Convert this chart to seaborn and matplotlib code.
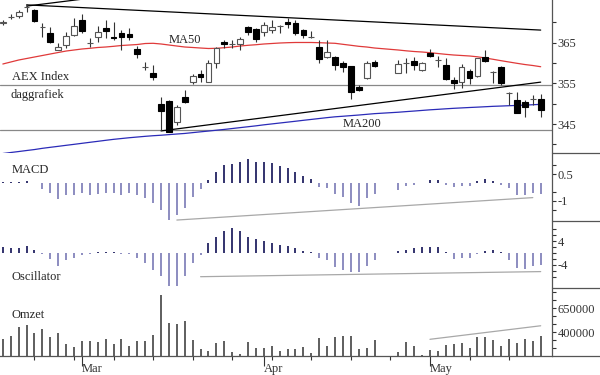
import numpy as np
import pandas as pd
import matplotlib
matplotlib.use("Agg")
import matplotlib.pyplot as plt
import seaborn as sns
from matplotlib.lines import Line2D

# trading days (Euronext closed on Good Friday and Easter Monday)
dates = pd.bdate_range("2011-02-15", "2011-05-20")
dates = dates[~dates.isin(pd.to_datetime(["2011-04-22", "2011-04-25"]))]

# AEX daily candles
opens = [369.9, 371.3, 371.6, 373.7, 373.0, 368.9, 367.3, 363.2, 364.4, 366.9,
         370.6, 365.0, 366.3, 368.5, 366.3, 367.3, 367.1, 363.4, 359.1, 357.5,
         349.9, 350.7, 345.4, 351.6, 355.4, 357.3, 355.4, 359.9, 365.2, 364.6,
         364.6, 368.9, 368.3, 367.6, 368.1, 369.1, 370.2, 369.9, 368.0, 366.3,
         364.0, 361.6, 361.6, 360.1, 359.3, 354.0, 356.2, 360.3, 357.6, 359.9,
         360.6, 358.3, 362.5, 360.7, 359.5, 355.8, 355.4, 358.1, 356.8, 361.6,
         357.9, 359.1, 352.7, 350.9, 350.3, 351.1, 351.1]
highs = [370.6, 372.1, 373.0, 374.6, 373.2, 369.8, 368.9, 364.9, 367.7, 371.1,
         372.1, 366.2, 369.1, 370.6, 370.2, 368.1, 368.6, 364.2, 360.2, 359.5,
         351.6, 350.9, 349.7, 353.4, 357.3, 358.3, 360.7, 363.9, 365.7, 365.7,
         366.4, 369.1, 368.6, 370.1, 370.6, 369.4, 371.1, 370.6, 368.4, 367.9,
         365.7, 365.7, 361.7, 360.5, 359.3, 354.6, 360.5, 360.7, 360.7, 361.2,
         361.5, 360.2, 363.4, 361.7, 361.2, 356.6, 359.8, 358.5, 361.2, 363.2,
         358.0, 359.3, 352.9, 352.9, 350.9, 352.1, 352.4]
lows = [369.4, 370.8, 371.1, 372.6, 370.1, 366.4, 364.9, 363.1, 363.7, 366.6,
        367.4, 363.9, 365.2, 366.2, 365.7, 363.2, 365.7, 361.2, 358.3, 355.8,
        343.5, 343.0, 344.7, 350.2, 354.8, 355.3, 355.3, 358.8, 363.7, 363.7,
        363.2, 366.9, 365.2, 366.6, 367.4, 367.4, 368.6, 366.9, 366.2, 366.2,
        360.0, 361.2, 358.3, 357.8, 351.1, 353.1, 356.1, 359.0, 357.5, 357.5,
        358.3, 358.0, 361.5, 359.0, 355.8, 353.6, 353.9, 354.8, 356.6, 360.2,
        355.1, 354.6, 349.7, 347.7, 346.7, 349.7, 346.7]
closes = [370.0, 371.4, 372.6, 373.8, 370.4, 368.9, 365.2, 363.9, 366.7, 369.1,
          367.9, 365.0, 367.6, 367.9, 366.2, 366.5, 366.5, 362.2, 359.1, 356.5,
          348.2, 343.1, 349.3, 350.5, 356.9, 356.6, 360.1, 363.6, 364.7, 364.6,
          365.8, 367.7, 365.8, 369.4, 368.9, 369.1, 369.6, 367.3, 366.9, 366.3,
          360.9, 362.8, 359.5, 359.1, 352.9, 353.4, 359.9, 359.3, 359.7, 359.9,
          359.5, 360.1, 361.7, 360.7, 356.1, 355.0, 359.1, 356.2, 361.2, 360.6,
          357.9, 355.0, 352.7, 347.8, 349.3, 351.1, 348.4]

ma50 = [359.76, 360.25, 360.74, 361.11, 361.48, 361.85, 362.22, 362.59, 362.95, 363.2,
        363.45, 363.62, 363.82, 363.94, 364.11, 364.31, 364.43, 364.55, 364.80, 364.85,
        364.68, 364.43, 364.18, 363.94, 363.82, 363.69, 363.57, 363.62, 363.77, 363.94,
        364.18, 364.36, 364.50, 364.68, 364.80, 364.92, 365.0, 365.05, 365.05, 365.05,
        365.0, 364.92, 364.85, 364.6, 364.36, 364.11, 363.94, 363.69, 363.2, 363.0,
        362.83, 362.71, 362.54, 362.34, 362.14, 361.97, 361.85, 361.73, 361.53, 361.23,
        360.91, 360.57, 360.25, 359.93, 359.63, 359.39, 359.09]
ma200 = [337.74, 337.99, 338.23, 338.48, 338.72, 339.02, 339.27, 339.51, 339.76, 340.0,
         340.25, 340.5, 340.74, 340.99, 341.23, 341.43, 341.63, 341.8, 341.97, 342.12,
         342.24, 342.39, 342.54, 342.68, 342.88, 343.08, 343.27, 343.47, 343.67, 343.89,
         344.11, 344.33, 344.55, 344.8, 345.02, 345.24, 345.46, 345.68, 345.91, 346.13,
         346.35, 346.57, 346.77, 346.91, 347.06, 347.21, 347.38, 347.55, 347.9, 348.05,
         348.19, 348.34, 348.49, 348.61, 348.74, 348.86, 348.96, 349.06, 349.15, 349.25,
         349.35, 349.42, 349.5, 349.57, 349.65, 349.74, 349.84]

macd = [0.05, 0.05, 0.07, 0.1, 0.02, -0.32, -0.56, -0.9, -0.65, -0.65,
        -0.56, -0.65, -0.6, -0.56, -0.56, -0.65, -0.56, -0.65, -0.84, -1.12,
        -1.5, -2.06, -1.78, -1.4, -0.75, -0.34, 0.19, 0.65, 1.03, 1.08,
        1.2, 1.35, 1.2, 1.2, 1.15, 0.97, 0.84, 0.65, 0.41, 0.22,
        -0.19, -0.28, -0.6, -0.75, -1.12, -1.27, -0.84, -0.6, -0.37, -0.15,
        -0.1, 0.02, 0.19, 0.19, -0.1, -0.22, -0.15, -0.15, 0.15, 0.22,
        0.15, -0.1, -0.28, -0.65, -0.65, -0.56, -0.6]
oscillator = [2.0, 1.8, 1.8, 2.2, 1.1, -0.3, -2.0, -4.2, -2.4, -1.7,
              -0.5, -0.3, 0.3, 0.3, 0.3, -0.3, -0.3, -1.7, -3.4, -5.6,
              -7.6, -11.0, -11.0, -7.8, -3.4, -0.5, 3.3, 5.5, 7.5, 8.5,
              7.5, 5.3, 4.6, 3.9, 3.3, 2.8, 2.2, 1.7, 0.8, 0.4,
              -1.7, -2.3, -4.7, -5.6, -6.2, -6.5, -4.5, -2.5, 0.8, 1.0,
              1.6, 1.9, 2.1, 2.1, 0.4, -2.0, -1.7, -1.7, -0.2, 0.8,
              1.0, 0.4, -2.5, -5.0, -5.4, -4.3, -4.0]
omzet = [326600, 361000, 451600, 476000, 396000, 434000, 354000, 389000, 278000, 250000,
         309000, 309000, 299000, 326600, 278000, 326600, 257000, 309000, 313000, 372000,
         788000, 500000, 486000, 518000, 320000, 222000, 208000, 292000, 309000, 198000,
         174000, 295000, 233000, 233000, 261000, 208000, 222000, 222000, 250000, 188000,
         337000, 261000, 347000, 361000, 361000, 226000, 240000, 320000, 191000, 295000,
         257000, 163000, 212000, 208000, 264000, 278000, 292000, 233000, 347000, 347000,
         320000, 261000, 326600, 292000, 326600, 309000, 361000]

# hand-drawn trend lines: (start date, start value, end date, end value)
price_trends = [("2011-02-18", 374.3, "2011-05-20", 368.1),
                ("2011-02-18", 374.0, "2011-03-01", 375.7),
                ("2011-03-15", 343.3, "2011-05-20", 355.3)]
macd_trend = ("2011-03-17", -2.07, "2011-05-19", -0.81)
osc_trend = ("2011-03-22", -7.9, "2011-05-20", -6.2)
omzet_trend = ("2011-05-02", 327000, "2011-05-20", 468000)
price_levels = [354.6, 343.5]

month_dates = ["2011-03-01", "2011-04-01", "2011-05-02"]
month_labels = ["Mar", "Apr", "May"]

sns.set_theme(style="white")
plt.rcParams["font.family"] = ["Liberation Serif", "DejaVu Serif"]
plt.rcParams["font.size"] = 9

df = pd.DataFrame({"date": dates, "open": opens, "high": highs, "low": lows,
                   "close": closes, "ma50": ma50, "ma200": ma200,
                   "macd": macd, "osc": oscillator, "omzet": omzet})
df["x"] = np.busday_count(np.datetime64("2011-02-28"), df["date"].values.astype("datetime64[D]"))


def xpos(d):
    return np.busday_count(np.datetime64("2011-02-28"), np.datetime64(d))


W, H = 600, 375
fig = plt.figure(figsize=(6, 3.75), dpi=100)


def panel(top, bottom):
    return fig.add_axes([0, 1 - bottom / H, 552 / W, (bottom - top) / H])


ax_p = panel(0, 153)
ax_m = panel(153, 221)
ax_o = panel(221, 288)
ax_v = panel(288, 356)
axes = [ax_p, ax_m, ax_o, ax_v]

for ax in axes:
    ax.set_xlim(-9.36, 60.43)
    for s in ["top", "left", "bottom"]:
        ax.spines[s].set_visible(False)
    ax.spines["right"].set_color("#555555")
    ax.spines["right"].set_linewidth(0.9)
    ax.yaxis.tick_right()
    ax.tick_params(axis="y", which="both", direction="out", length=3, width=0.8,
                   pad=1, labelsize=9, colors="#333333", right=True)
    ax.set_xticks([])
    ax.set_facecolor("white")

# ---- price panel
ax_p.set_ylim(337.87, 375.5)
for lvl in price_levels:
    ax_p.axhline(lvl, color="#888888", lw=0.9)
for t in price_trends:
    ax_p.plot([xpos(t[0]), xpos(t[2])], [t[1], t[3]], color="black", lw=0.9)
sns.lineplot(data=df, x="x", y="ma50", ax=ax_p, color="#e03a3a", lw=0.9, clip_on=False)
sns.lineplot(data=df, x="x", y="ma200", ax=ax_p, color="#2b2bb8", lw=0.9, clip_on=False)

ax_p.vlines(df["x"], df["low"], df["high"], color="#333333", lw=0.8, zorder=3)
up = df["close"] >= df["open"]
ax_p.bar(df["x"][up], (df["close"] - df["open"])[up], bottom=df["open"][up], width=0.72,
         color="white", edgecolor="#555555", lw=0.8, zorder=4)
ax_p.bar(df["x"][~up], (df["open"] - df["close"])[~up], bottom=df["close"][~up], width=0.72,
         color="black", edgecolor="black", lw=0.8, zorder=4)
ax_p.set_yticks([345, 355, 365])
ax_p.set_yticks([340, 350, 360, 370], minor=True)
ax_p.set_xlabel("")
ax_p.set_ylabel("")

ax_p.text(12 / 552, 1 - 80 / 153, "AEX Index", transform=ax_p.transAxes, fontsize=9)
ax_p.text(11 / 552, 1 - 98 / 153, "daggrafiek", transform=ax_p.transAxes, fontsize=9)
ax_p.text(169 / 552, 1 - 43 / 153, "MA50", transform=ax_p.transAxes, fontsize=9)
ax_p.text(343 / 552, 1 - 127 / 153, "MA200", transform=ax_p.transAxes, fontsize=9)

# ---- MACD panel
ax_m.set_ylim(-2.124, 1.697)
mcol = np.where(df["macd"] >= 0, "#33336e", "#8c8cc0")
ax_m.vlines(df["x"], 0, df["macd"], colors=mcol, lw=1.4)
ax_m.plot([xpos(macd_trend[0]), xpos(macd_trend[2])], [macd_trend[1], macd_trend[3]],
          color="#a8a8a8", lw=0.9)
ax_m.set_yticks([-1, 0.5], ["-1", "0.5"])
ax_m.set_yticks([-1.5, -0.5, 1.0], minor=True)
ax_m.text(12 / 552, 1 - 20 / 68, "MACD", transform=ax_m.transAxes, fontsize=9)

# ---- oscillator panel
ax_o.set_ylim(-11.67, 10.67)
ocol = np.where(df["osc"] >= 0, "#33336e", "#8c8cc0")
ax_o.vlines(df["x"], 0, df["osc"], colors=ocol, lw=1.4)
ax_o.plot([xpos(osc_trend[0]), xpos(osc_trend[2])], [osc_trend[1], osc_trend[3]],
          color="#a8a8a8", lw=0.9)
ax_o.set_yticks([-4, 4], ["-4", "4"])
ax_o.set_yticks([-8, -6, -2, 0, 2, 6, 8], minor=True)
ax_o.text(12 / 552, 1 - 59 / 67, "Oscillator", transform=ax_o.transAxes, fontsize=9)

# ---- volume panel
vmin = 153000
ax_v.set_ylim(vmin, 861500)
ax_v.vlines(df["x"], vmin, df["omzet"], color="#333333", lw=1.1)
ax_v.plot([xpos(omzet_trend[0]), xpos(omzet_trend[2])], [omzet_trend[1], omzet_trend[3]],
          color="#a8a8a8", lw=0.9)
ax_v.set_yticks([400000, 650000], ["400000", "650000"])
ax_v.set_yticks([233333, 316667, 483333, 566667, 733333, 816667], minor=True)
ax_v.text(12 / 552, 1 - 30 / 68, "Omzet", transform=ax_v.transAxes, fontsize=9)

ax_v.spines["bottom"].set_visible(True)
ax_v.spines["bottom"].set_color("#555555")
ax_v.spines["bottom"].set_linewidth(0.9)
ax_v.set_xticks([xpos(d) for d in month_dates], month_labels)
mondays = pd.date_range("2011-02-21", "2011-05-20", freq="W-MON")
ax_v.set_xticks([xpos(d.strftime("%Y-%m-%d")) for d in mondays], minor=True)
ax_v.tick_params(axis="x", which="major", direction="out", length=7, width=0.8,
                 pad=-2, labelsize=9, colors="#333333", bottom=True)
ax_v.tick_params(axis="x", which="minor", direction="out", length=3, width=0.8,
                 colors="#333333", bottom=True)
for lbl in ax_v.get_xticklabels():
    lbl.set_ha("left")

# separators in the scale column and the base line
for yy in [153, 221, 288]:
    fig.add_artist(Line2D([552 / W, 1], [1 - yy / H] * 2, color="#555555", lw=0.9))
fig.add_artist(Line2D([552 / W, 1], [1 - 356 / H] * 2, color="#555555", lw=0.9))

fig.savefig("out.png", dpi=100, facecolor="white")
